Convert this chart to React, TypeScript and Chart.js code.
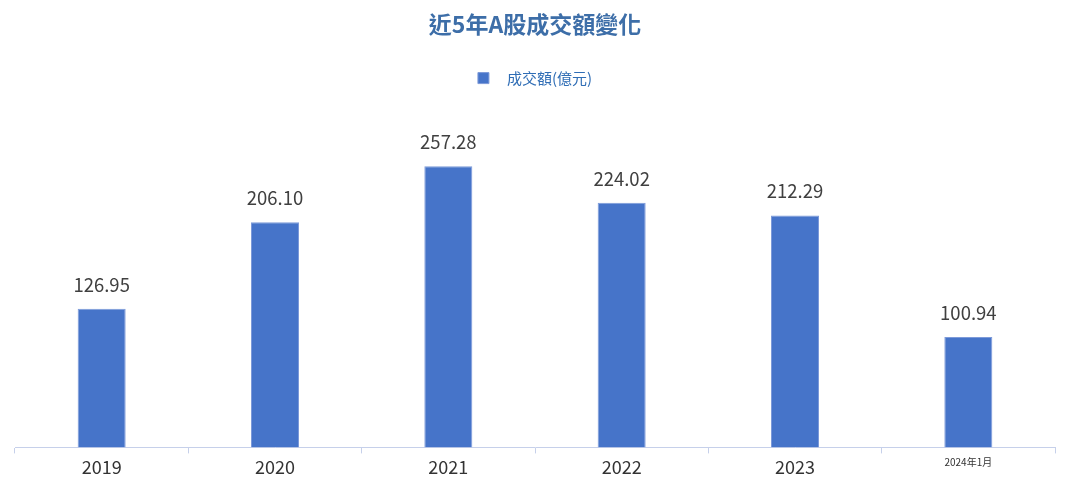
import { useEffect, useRef } from 'react';
import { Chart, ChartConfiguration, Plugin, registerables } from 'chart.js';

Chart.register(...registerables);

const categories = ['2019', '2020', '2021', '2022', '2023', '2024年1月'];
const turnover = [126.95, 206.1, 257.28, 224.02, 212.29, 100.94];
const seriesLabel = '成交額(億元)';
const chartTitle = '近5年A股成交額變化';

const FONT = '"Noto Sans CJK TC", "Noto Sans", sans-serif';

const valueLabels: Plugin<'bar'> = {
  id: 'valueLabels',
  afterDatasetsDraw(chart) {
    const { ctx } = chart;
    const meta = chart.getDatasetMeta(0);
    ctx.save();
    ctx.font = `18.5px ${FONT}`;
    ctx.fillStyle = '#404040';
    ctx.textAlign = 'center';
    ctx.textBaseline = 'middle';
    meta.data.forEach((bar, i) => {
      ctx.fillText(turnover[i].toFixed(2), bar.x, bar.y - 24);
    });
    ctx.restore();
  }
};

export default function App() {
  const canvasRef = useRef<HTMLCanvasElement>(null);
  const chartRef = useRef<Chart | null>(null);

  useEffect(() => {
    if (!canvasRef.current) return;
    if (chartRef.current) chartRef.current.destroy();
    const ctx = canvasRef.current.getContext('2d');
    if (!ctx) return;

    const config: ChartConfiguration<'bar'> = {
      type: 'bar',
      data: {
        labels: categories,
        datasets: [
          {
            label: seriesLabel,
            data: turnover,
            backgroundColor: '#4674c9',
            borderColor: '#7d9ad9',
            borderWidth: 1,
            categoryPercentage: 1,
            barPercentage: 0.277
          }
        ]
      },
      options: {
        responsive: true,
        maintainAspectRatio: false,
        animation: false,
        layout: { padding: { left: 15, right: 10, top: 0, bottom: 0 } },
        plugins: {
          title: {
            display: true,
            text: chartTitle,
            color: '#3d6ea8',
            font: { family: FONT, size: 23, weight: 'bold' },
            padding: { top: 10, bottom: 13 }
          },
          legend: {
            display: true,
            position: 'top',
            labels: {
              boxWidth: 11,
              boxHeight: 11,
              padding: 20,
              color: '#2f6db5',
              font: { family: FONT, size: 15 },
              generateLabels: (chart) =>
                Chart.defaults.plugins.legend.labels
                  .generateLabels(chart)
                  .map((item) => ({ ...item, text: '\u2002\u2009' + item.text }))
            }
          },
          tooltip: { enabled: false }
        },
        scales: {
          x: {
            grid: {
              offset: true,
              drawOnChartArea: false,
              drawTicks: true,
              tickLength: 6,
              color: '#c6d0ea'
            },
            border: { color: '#c6d0ea' },
            ticks: {
              color: '#333333',
              padding: 3,
              font: (c) =>
                c.index === 5
                  ? { family: FONT, size: 10 }
                  : { family: FONT, size: 18 }
            }
          },
          y: {
            display: false,
            min: 0,
            max: 322
          }
        }
      },
      plugins: [valueLabels]
    };

    chartRef.current = new Chart(ctx, config);
    return () => {
      if (chartRef.current) chartRef.current.destroy();
    };
  }, []);

  return (
    <div
      style={{
        position: 'absolute',
        left: 0,
        top: 0,
        width: 1065,
        height: 481,
        background: '#ffffff'
      }}
    >
      <canvas ref={canvasRef}></canvas>
    </div>
  );
}
